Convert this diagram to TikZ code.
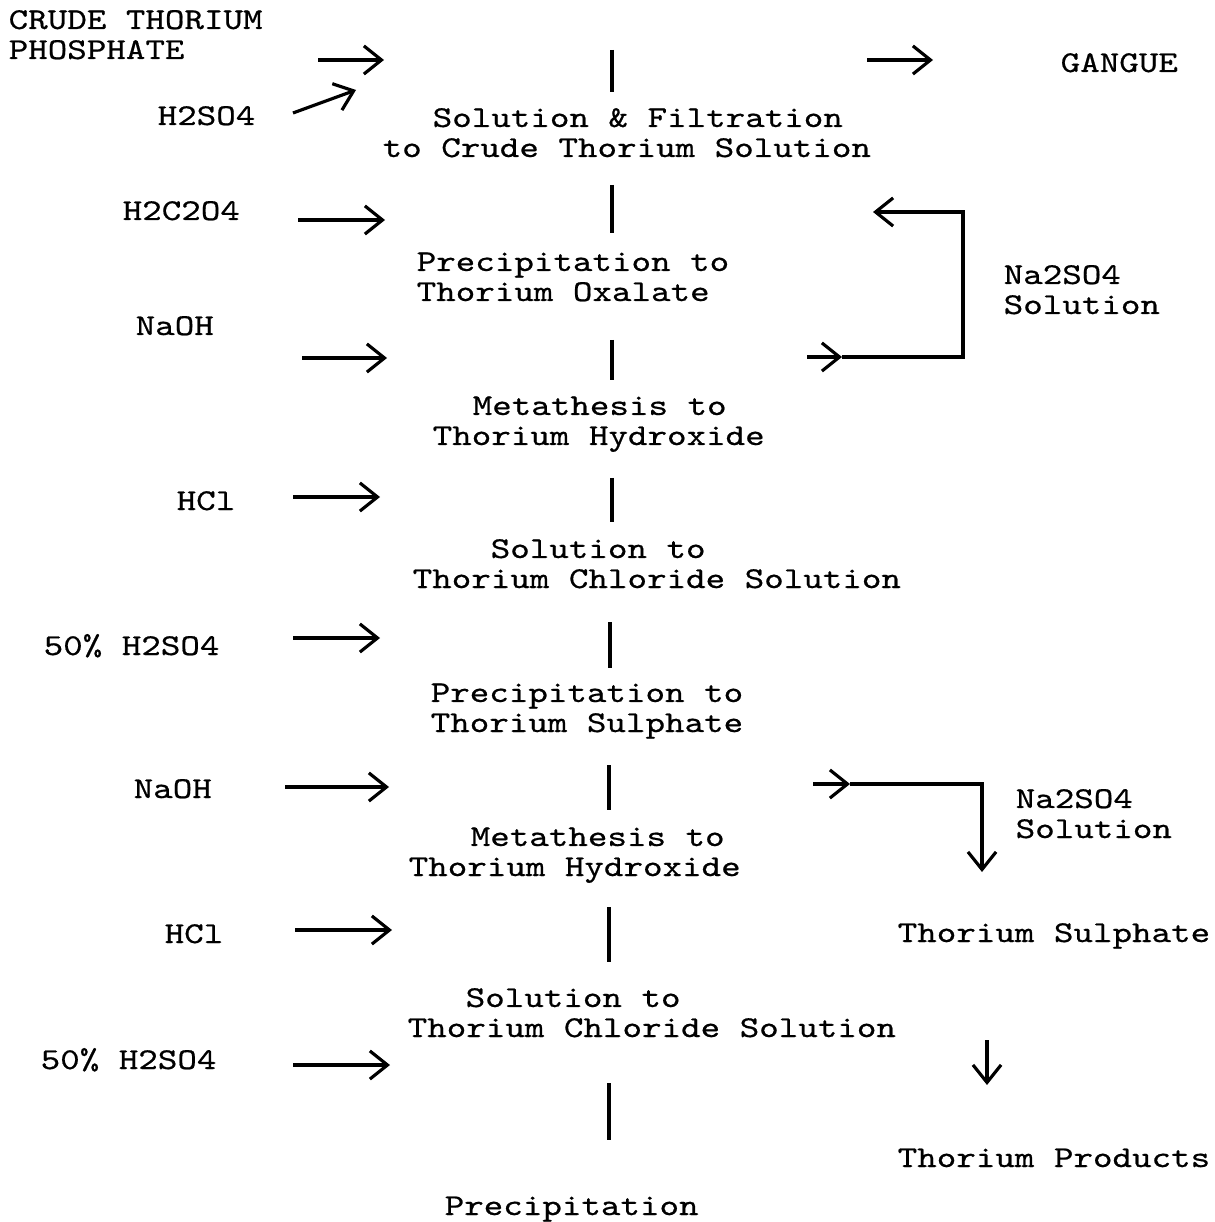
\documentclass[tikz,border=0pt]{standalone}
\usepackage{fontspec}
\newfontfamily\twfont[FakeStretch=1.23,FakeBold=0.6]{lmmono10-regular.otf}
\usepackage{tikz}
\usetikzlibrary{arrows.meta}
\newcommand\tw{\twfont\fontsize{8.6}{8.54}\selectfont}

\begin{document}
\begin{tikzpicture}[x=0.01cm,y=-0.01cm,
    txt/.style={font=\tw,inner sep=0pt,anchor=base west,align=left},
    feed/.style={line width=0.9pt,-{Straight Barb[length=5pt,width=8pt]}},
    bar/.style={line width=1.4pt}]
    \useasboundingbox (0,0) rectangle (1214,1222);
    % main column of process steps (anchored at last line)
    \node[txt] (solfilt) at (382,157) {\hspace*{0.5cm}Solution \& Filtration\\to Crude Thorium Solution};
    \node[txt] (precox) at (416,301) {Precipitation to\\Thorium Oxalate};
    \node[txt] (meta1) at (432,445) {\hspace*{0.4cm}Metathesis to\\Thorium Hydroxide};
    \node[txt] (solcl1) at (412,588) {\hspace*{0.78cm}Solution to\\Thorium Chloride Solution};
    \node[txt] (precsul) at (430,732) {Precipitation to\\Thorium Sulphate};
    \node[txt] (meta2) at (408,876) {\hspace*{0.62cm}Metathesis to\\Thorium Hydroxide};
    \node[txt] (solcl2) at (407,1037) {\hspace*{0.58cm}Solution to\\Thorium Chloride Solution};
    \node[txt] (precip) at (444,1215) {Precipitation};
    % feeds on the left
    \node[txt] (crude) at (8,59) {CRUDE THORIUM\\PHOSPHATE};
    \node[txt] (hso1) at (157,125) {H2SO4};
    \node[txt] (oxacid) at (122,220) {H2C2O4};
    \node[txt] (naoh1) at (135,335) {NaOH};
    \node[txt] (hcl1) at (176,510) {HCl};
    \node[txt] (acid1) at (43,655) {50\% H2SO4};
    \node[txt] (naoh2) at (133,798) {NaOH};
    \node[txt] (hcl2) at (164,943) {HCl};
    \node[txt] (acid2) at (40,1069) {50\% H2SO4};
    % outputs on the right
    \node[txt] (gangue) at (1060,72) {GANGUE};
    \node[txt] (na1) at (1003,314) {Na2SO4\\Solution};
    \node[txt] (na2) at (1015,838) {Na2SO4\\Solution};
    \node[txt] (thsul) at (897,942) {Thorium Sulphate};
    \node[txt] (thprod) at (897,1167) {Thorium Products};

    % bars
    \coordinate (b1t) at (612,50);   \coordinate (b1b) at (612,92);
    \coordinate (b2t) at (612,185);  \coordinate (b2b) at (612,233);
    \coordinate (b3t) at (612,340);  \coordinate (b3b) at (612,380);
    \coordinate (b4t) at (612,478);  \coordinate (b4b) at (612,522);
    \coordinate (b5t) at (610,622);  \coordinate (b5b) at (610,668);
    \coordinate (b6t) at (609,765);  \coordinate (b6b) at (609,810);
    \coordinate (b7t) at (609,907);  \coordinate (b7b) at (609,962);
    \coordinate (b8t) at (609,1083); \coordinate (b8b) at (609,1140);
    \draw[bar] (b1t) -- (b1b);
    \draw[bar] (b2t) -- (b2b);
    \draw[bar] (b3t) -- (b3b);
    \draw[bar] (b4t) -- (b4b);
    \draw[bar] (b5t) -- (b5b);
    \draw[bar] (b6t) -- (b6b);
    \draw[bar] (b7t) -- (b7b);
    \draw[bar] (b8t) -- (b8b);

    % feed arrows
    \coordinate (f1s) at (318,60);  \coordinate (f1e) at (384,60);
    \coordinate (f2s) at (293,113); \coordinate (f2e) at (356,90);
    \coordinate (f3s) at (298,220); \coordinate (f3e) at (385,220);
    \coordinate (f4s) at (302,358); \coordinate (f4e) at (387,358);
    \coordinate (f5s) at (293,497); \coordinate (f5e) at (380,497);
    \coordinate (f6s) at (293,638); \coordinate (f6e) at (380,638);
    \coordinate (f7s) at (285,787); \coordinate (f7e) at (389,787);
    \coordinate (f8s) at (295,930); \coordinate (f8e) at (392,930);
    \coordinate (f9s) at (293,1065); \coordinate (f9e) at (390,1065);
    \draw[feed] (f1s) -- (f1e);
    \draw[feed] (f2s) -- (f2e);
    \draw[feed] (f3s) -- (f3e);
    \draw[feed] (f4s) -- (f4e);
    \draw[feed] (f5s) -- (f5e);
    \draw[feed] (f6s) -- (f6e);
    \draw[feed] (f7s) -- (f7e);
    \draw[feed] (f8s) -- (f8e);
    \draw[feed] (f9s) -- (f9e);

    % gangue
    \coordinate (g1s) at (867,60); \coordinate (g1e) at (933,60);
    \draw[feed] (g1s) -- (g1e);

    % Na2SO4 recycle loop
    \coordinate (r1s) at (807,357); \coordinate (r1m) at (842,357);
    \coordinate (r1c) at (963,357); \coordinate (r1d) at (963,212);
    \coordinate (r1e) at (873,212);
    \draw[feed] (r1s) -- (r1m);
    \draw[feed] (r1m) -- (r1c) -- (r1d) -- (r1e);

    % Na2SO4 to thorium sulphate
    \coordinate (r2s) at (813,784); \coordinate (r2m) at (850,784);
    \coordinate (r2c) at (982,784); \coordinate (r2e) at (982,872);
    \draw[feed] (r2s) -- (r2m);
    \draw[feed] (r2m) -- (r2c) -- (r2e);

    % thorium sulphate to products
    \coordinate (p1s) at (987,1040); \coordinate (p1e) at (987,1085);
    \draw[feed] (p1s) -- (p1e);
\end{tikzpicture}
\end{document}
